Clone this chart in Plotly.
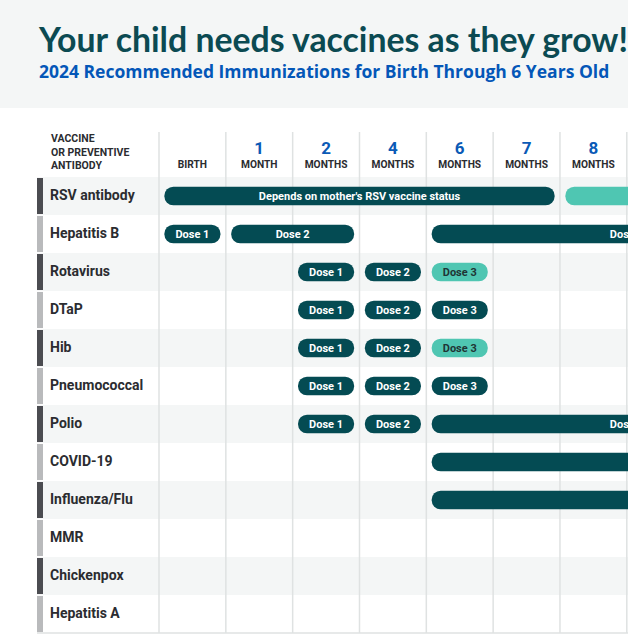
import plotly.graph_objects as go

# rows of the schedule (top to bottom)
vaccines = ['RSV antibody', 'Hepatitis B', 'Rotavirus', 'DTaP', 'Hib',
            'Pneumococcal', 'Polio', 'COVID-19', 'Influenza/Flu', 'MMR',
            'Chickenpox', 'Hepatitis A']

# age columns
col_numbers = ['', '1', '2', '4', '6', '7', '8']
col_units = ['BIRTH', 'MONTH', 'MONTHS', 'MONTHS', 'MONTHS', 'MONTHS', 'MONTHS']

# doses: vaccine, first column, end column, label, style
dose_vaccine = ['RSV antibody', 'RSV antibody',
                'Hepatitis B', 'Hepatitis B', 'Hepatitis B',
                'Rotavirus', 'Rotavirus', 'Rotavirus',
                'DTaP', 'DTaP', 'DTaP',
                'Hib', 'Hib', 'Hib',
                'Pneumococcal', 'Pneumococcal', 'Pneumococcal',
                'Polio', 'Polio', 'Polio',
                'COVID-19', 'Influenza/Flu']
dose_start = [0, 6, 0, 1, 4, 2, 3, 4, 2, 3, 4, 2, 3, 4, 2, 3, 4, 2, 3, 4, 4, 4]
dose_end = [6, 14, 1, 3, 10, 3, 4, 5, 3, 4, 5, 3, 4, 5, 3, 4, 5, 3, 4, 10, 14, 14]
dose_label = ["Depends on mother's RSV vaccine status", '',
              'Dose 1', 'Dose 2', 'Dose 3',
              'Dose 1', 'Dose 2', 'Dose 3',
              'Dose 1', 'Dose 2', 'Dose 3',
              'Dose 1', 'Dose 2', 'Dose 3',
              'Dose 1', 'Dose 2', 'Dose 3',
              'Dose 1', 'Dose 2', 'Dose 3',
              '', '']
dose_style = ['dark', 'light',
              'dark', 'dark', 'dark',
              'dark', 'dark', 'light',
              'dark', 'dark', 'dark',
              'dark', 'dark', 'light',
              'dark', 'dark', 'dark',
              'dark', 'dark', 'dark',
              'dark', 'dark']

DARK = '#044b53'
LIGHT = '#4fc6b2'
ROWGRAY = '#f4f6f6'
GRID = '#dfe2e2'
TEXT = '#2b2c30'
BLUE = '#0a5ab6'
FONT = 'Roboto'

W, H = 628, 640
COL_X0, COL_W = 159, 66.83      # pixel position of first column edge, column width
ROW_Y0, ROW_H = 196, 38         # pixel centre of first row, row height
PAD = 0.08                      # gap between pill and column edge (column units)


def px_x(p):
    return (p - COL_X0) / COL_W


def px_y(p):
    return (p - ROW_Y0) / ROW_H


fig = go.Figure()

# pills
for style, color, tcolor in [('dark', DARK, 'white'), ('light', LIGHT, '#1f3535')]:
    idx = [i for i, s in enumerate(dose_style) if s == style]
    fig.add_trace(go.Bar(
        orientation='h',
        y=[vaccines.index(dose_vaccine[i]) for i in idx],
        base=[dose_start[i] + PAD for i in idx],
        x=[dose_end[i] - dose_start[i] - 2 * PAD for i in idx],
        text=[dose_label[i] for i in idx],
        textposition='inside', insidetextanchor='middle', textangle=0,
        constraintext='none',
        textfont=dict(family=FONT, size=12.2, color=tcolor, weight='bold'),
        width=0.49,
        marker=dict(color=color, line_width=0, cornerradius='50%'),
        hoverinfo='skip', showlegend=False,
    ))

# vaccine names
fig.add_trace(go.Scatter(
    x=[px_x(50)] * len(vaccines), y=list(range(len(vaccines))),
    mode='text', text=vaccines, textposition='middle right',
    textfont=dict(family=FONT, size=14, color=TEXT, weight='bold'),
    hoverinfo='skip', showlegend=False,
))

# column headers
fig.add_trace(go.Scatter(
    x=[c + 0.5 for c in range(len(col_numbers))], y=[px_y(149.5)] * len(col_numbers),
    mode='text', text=col_numbers,
    textfont=dict(family=FONT, size=17, color=BLUE, weight='bold'),
    hoverinfo='skip', showlegend=False,
))
fig.add_trace(go.Scatter(
    x=[c + 0.5 for c in range(len(col_units))], y=[px_y(165)] * len(col_units),
    mode='text', text=col_units,
    textfont=dict(family=FONT, size=10.2, color=TEXT, weight='bold'),
    hoverinfo='skip', showlegend=False,
))

shapes = []
# header band
shapes.append(dict(type='rect', xref='paper', yref='paper', x0=0, x1=1,
                   y0=1 - 108 / H, y1=1, fillcolor=ROWGRAY, line_width=0, layer='below'))
# row backgrounds and label bars
for i in range(len(vaccines)):
    if i % 2 == 0:
        shapes.append(dict(type='rect', xref='paper', yref='y', x0=43 / W, x1=1,
                           y0=i - 0.5, y1=i + 0.5, fillcolor=ROWGRAY, line_width=0,
                           layer='below'))
    shapes.append(dict(type='rect', xref='paper', yref='y', x0=37 / W, x1=43 / W,
                       y0=i - 0.475, y1=i + 0.475,
                       fillcolor='#4b4c51' if i % 2 == 0 else '#b9babc',
                       line_width=0, layer='below'))
# column lines
for c in range(len(col_numbers) + 2):
    shapes.append(dict(type='line', xref='x', yref='y', x0=c, x1=c,
                       y0=px_y(132), y1=len(vaccines) - 0.5,
                       line=dict(color=GRID, width=1.5), layer='below'))
# bottom border
shapes.append(dict(type='line', xref='paper', yref='y', x0=37 / W, x1=1,
                   y0=len(vaccines) - 0.5, y1=len(vaccines) - 0.5,
                   line=dict(color=GRID, width=1.5), layer='below'))

fig.update_layout(
    width=W, height=H,
    margin=dict(l=0, r=0, t=0, b=0),
    paper_bgcolor='white', plot_bgcolor='white',
    barmode='overlay',
    xaxis=dict(range=[px_x(0), px_x(W)], visible=False, fixedrange=True),
    yaxis=dict(range=[px_y(H), px_y(0)], visible=False, fixedrange=True),
    shapes=shapes,
    annotations=[
        dict(text='Your child needs vaccines as they grow!', xref='paper', yref='paper',
             x=36 / W, y=1 - 39 / H, xanchor='left', yanchor='middle', showarrow=False,
             font=dict(family='Lato', size=33.8, color='#0b4a52', weight='bold')),
        dict(text='2024 Recommended Immunizations for Birth Through 6 Years Old',
             xref='paper', yref='paper', x=37 / W, y=1 - 71.5 / H, xanchor='left',
             yanchor='middle', showarrow=False,
             font=dict(family='Open Sans', size=17.5, color='#0457b8', weight='bold')),
        dict(text='VACCINE<br>OR PREVENTIVE<br>ANTIBODY', xref='x', yref='y',
             x=px_x(49), y=px_y(152), xanchor='left', yanchor='middle', align='left',
             showarrow=False,
             font=dict(family=FONT, size=10.5, color=TEXT, weight='bold')),
    ],
)

fig.write_html('out.html', config={'displayModeBar': False},
               post_script="document.body.style.margin='0';")
